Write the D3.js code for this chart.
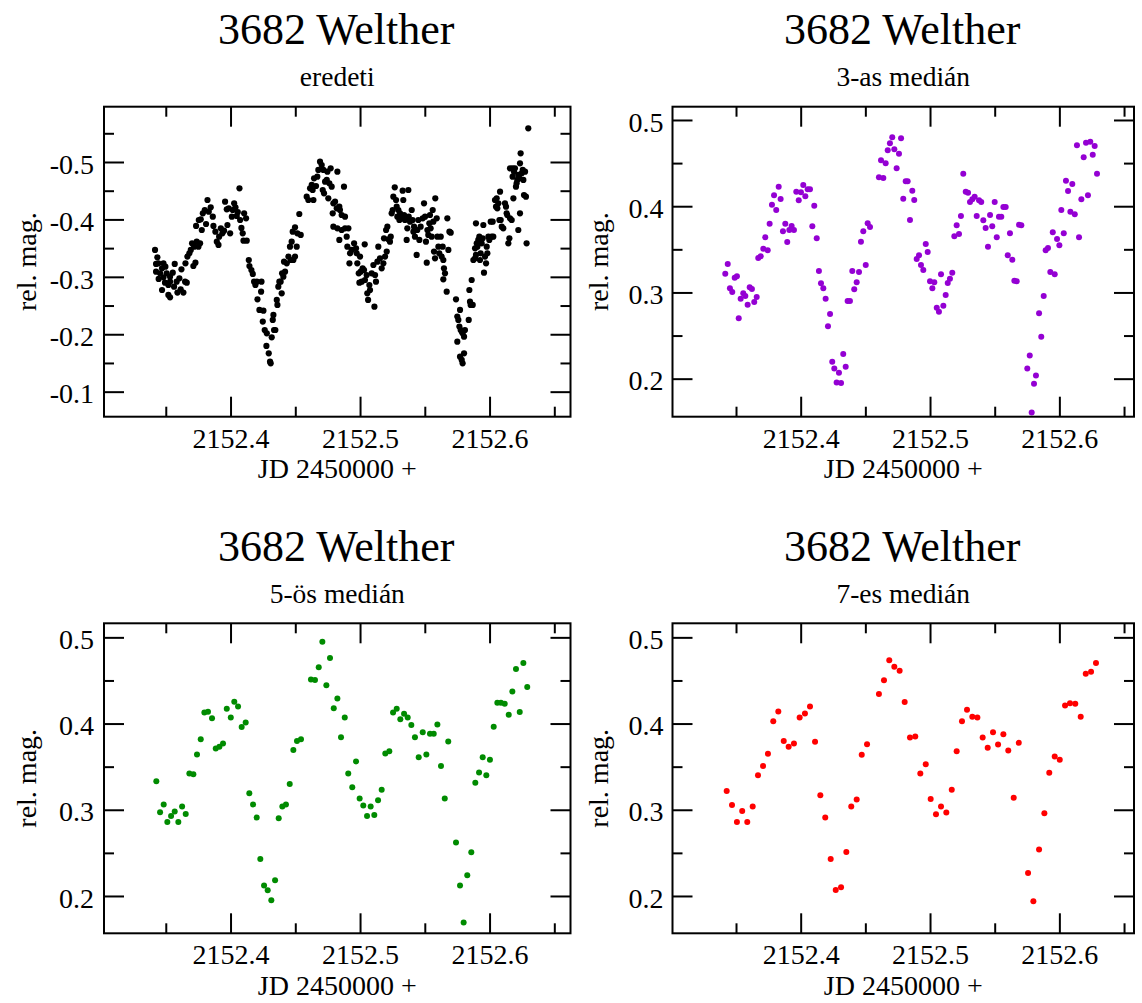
<!DOCTYPE html>
<html>
<head>
<meta charset="utf-8">
<script src="https://cdn.jsdelivr.net/npm/d3@7"></script>
<style>
  html, body { margin: 0; padding: 0; background: #fff; }
  svg { display: block; }
</style>
</head>
<body>
<svg id="chart" width="1142" height="1003"></svg>
<script>
// ---- labels and ticks ----
const objectName = "3682 Welther";
const subtitles = ["eredeti", "3-as medián", "5-ös medián", "7-es medián"];
const xLabel = "JD 2450000 +";
const yLabel = "rel. mag.";
const xMajorTicks = [2152.4, 2152.5, 2152.6];
const xMinorTicks = [2152.35, 2152.45, 2152.55, 2152.65];
const rawYTicks = [-0.5, -0.4, -0.3, -0.2, -0.1];
const rawYMinor = [-0.55, -0.45, -0.35, -0.25, -0.15];
const medYTicks = [0.5, 0.4, 0.3, 0.2];
const medYMinor = [0.45, 0.35, 0.25];

// ---- original photometry ----
const rawJD = [
2152.3417,2152.3435,2152.3425,2152.3443,2152.3482,2152.3425,2152.3456,2152.3471,2152.3497,2152.3445,
2152.3482,2152.3507,2152.3533,2152.3554,2152.3569,2152.3471,2152.3494,2152.3520,2152.3533,2152.3520,
2152.3533,2152.3564,2152.3584,2152.3605,2152.3621,2152.3590,2152.3615,2152.3636,2152.3649,2152.3662,
2152.3652,2152.3667,2152.3682,2152.3693,2152.3703,2152.3713,2152.3729,2152.3719,2152.3752,2152.3765,
2152.3739,2152.3734,2152.3755,2152.3770,2152.3786,2152.3801,2152.3778,2152.3811,2152.3822,2152.3832,
2152.3847,2152.3863,2152.3868,2152.3883,2152.3894,2152.3907,2152.3912,2152.3925,2152.3937,2152.3950,
2152.3958,2152.3971,2152.3976,2152.3986,2152.3997,2152.4010,2152.4017,2152.4028,2152.4038,2152.4048,
2152.4056,2152.4069,2152.4074,2152.4084,2152.4094,2152.4105,2152.4120,2152.4100,2152.4125,2152.4141,
2152.4146,2152.4161,2152.4172,2152.4182,2152.4192,2152.4203,2152.4239,2152.4236,2152.4208,2152.4223,
2152.4254,2152.4249,2152.4264,2152.4280,2152.4277,2152.4295,2152.4305,
2152.4310,2152.4318,2152.4326,2152.4336,2152.4346,2152.4331,2152.4357,2152.4362,2152.4369,2152.4377,
2152.4387,2152.4395,2152.4398,2152.4408,2152.4413,2152.4421,2152.4434,2152.4447,2152.4459,2152.4472,
2152.4465,2152.4485,2152.4498,2152.4480,2152.4498,2152.4511,2152.4516,2152.4531,2152.4542,2152.4588,
2152.4601,2152.4614,2152.4627,2152.4634,2152.4640,2152.4645,2152.4660,2152.4670,2152.4678,2152.4691,
2152.4704,2152.4717,2152.4712,2152.4722,2152.4730,2152.4743,2152.4748,2152.4755,2152.4763,2152.4773,
2152.4781,2152.4789,2152.4794,2152.4807,2152.4825,2152.4820,2152.4840,2152.4845,2152.4858,2152.4876,
2152.4884,2152.4794,2152.4825,2152.4840,2152.4858,2152.4884,2152.4910,2152.4897,2152.4902,2152.4923,
2152.4936,2152.4918,2152.4954,2152.4969,2152.4974,2152.4979,2152.5000,2152.5036,2152.4990,2152.5005,
2152.5020,2152.5031,2152.4995,2152.5013,2152.5038,2152.5051,2152.5056,2152.5062,2152.5072,2152.5077,
2152.5090,2152.5103,2152.5116,2152.5123,2152.5134,2152.5111,2152.5141,2152.5154,2152.5167,2152.5180,
2152.5193,2152.5206,2152.5185,2152.5201,2152.5211,2152.5219,2152.5231,2152.5237,2152.5244,2152.5252,
2152.5257,2152.5268,2152.5278,2152.5283,2152.5288,2152.5296,2152.5304,2152.5309,2152.5321,2152.5329,
2152.5334,2152.5340,2152.5347,2152.5360,2152.5365,2152.5373,2152.5376,2152.5386,2152.5399,2152.5406,
2152.5412,2152.5417,2152.5424,2152.5437,2152.5442,2152.5450,2152.5458,
2152.5468,2152.5484,2152.5494,2152.5502,2152.5509,2152.5515,2152.5520,2152.5527,2152.5535,2152.5540,
2152.5545,2152.5553,2152.5561,2152.5566,2152.5571,2152.5579,2152.5581,2152.5592,2152.5597,2152.5605,
2152.5612,2152.5623,2152.5630,2152.5638,2152.5643,2152.5648,2152.5656,2152.5643,2152.5669,2152.5674,
2152.5682,2152.5690,2152.5700,2152.5741,2152.5751,2152.5759,2152.5767,2152.5772,2152.5777,2152.5787,
2152.5792,2152.5803,2152.5810,2152.5751,2152.5772,2152.5785,2152.5792,2152.5803,2152.5839,2152.5844,
2152.5849,2152.5854,2152.5870,2152.5862,2152.5875,2152.5888,2152.5895,2152.5888,2152.5901,2152.5906,
2152.5913,2152.5895,2152.5921,2152.5926,2152.5931,2152.5939,2152.5947,2152.5952,2152.5957,2152.5965,
2152.5973,2152.5978,2152.5983,2152.5991,2152.5998,2152.6009,2152.6016,2152.6024,2152.6029,2152.6042,
2152.6050,2152.6055,2152.6060,2152.6068,2152.6076,2152.6081,2152.6086,2152.6094,2152.6106,2152.6119,
2152.6127,2152.6132,2152.6137,2152.6145,2152.6153,2152.6158,2152.6171,2152.6178,2152.6184,2152.6189,
2152.6196,2152.6204,2152.6209,2152.6214,2152.6222,2152.6230,2152.6235,2152.6240,2152.6248,2152.6256,
2152.6261,2152.6266,2152.6274,2152.6281,2152.6286,2152.6299,2152.6222,2152.6235,2152.6158,2152.6178
];
const rawMag = [
-0.3468,-0.3340,-0.3224,-0.3235,-0.3235,-0.3090,-0.3061,-0.3148,-0.3177,-0.2963,
-0.2992,-0.3061,-0.3003,-0.3073,-0.3224,-0.2771,-0.2899,-0.2858,-0.2916,-0.2684,
-0.2643,-0.2829,-0.2916,-0.2974,-0.3131,-0.2725,-0.2783,-0.2725,-0.2916,-0.2899,
-0.3235,-0.3352,-0.3410,-0.3468,-0.3584,-0.3189,-0.3247,-0.3526,-0.3526,-0.3584,
-0.3613,-0.3886,-0.3990,-0.4002,-0.4106,-0.4164,-0.3816,-0.3920,-0.4338,-0.4135,
-0.4211,-0.4048,-0.3886,-0.3787,-0.3613,-0.3555,-0.3700,-0.3845,-0.3758,-0.3804,
-0.4309,-0.4176,-0.3903,-0.4193,-0.3758,-0.4048,-0.4164,-0.4280,-0.4211,-0.4060,
-0.4129,-0.4541,-0.3990,-0.3851,-0.3758,-0.4106,-0.4019,-0.3630,-0.3630,-0.3293,
-0.3189,-0.3119,-0.3050,-0.2916,-0.2858,-0.2916,-0.2916,-0.2742,-0.2608,-0.2423,
-0.2411,-0.2220,-0.2074,-0.2016,-0.1796,-0.1668,-0.1523,
-0.1494,-0.1947,-0.2249,-0.2074,-0.2074,-0.2336,-0.2597,-0.2510,-0.2829,-0.2916,
-0.2916,-0.2713,-0.3061,-0.3003,-0.3264,-0.3090,-0.3235,-0.3352,-0.3526,-0.3613,
-0.3293,-0.3293,-0.3352,-0.3787,-0.3862,-0.3526,-0.3758,-0.4094,-0.3729,-0.4396,
-0.4338,-0.4541,-0.4600,-0.4512,-0.4338,-0.4716,-0.4582,-0.4745,-0.4861,-0.5006,
-0.4948,-0.4861,-0.4512,-0.4454,-0.4658,-0.4687,-0.4832,-0.4367,-0.4629,-0.4890,
-0.4571,-0.4106,-0.4280,-0.4309,-0.4832,-0.4193,-0.4222,-0.4164,-0.4077,-0.4571,
-0.4048,-0.3874,-0.3845,-0.3642,-0.3816,-0.3845,-0.3845,-0.3700,-0.3526,-0.3410,
-0.3468,-0.3235,-0.3584,-0.3497,-0.3410,-0.3235,-0.3352,-0.3566,-0.3061,-0.3090,
-0.3148,-0.3119,-0.2899,-0.2916,-0.2945,-0.3032,-0.2713,-0.2597,-0.2858,-0.2771,
-0.3061,-0.3206,-0.3032,-0.2916,-0.3264,-0.2481,-0.3526,-0.3322,-0.3148,-0.3235,
-0.3352,-0.3439,-0.3671,-0.3816,-0.3874,-0.3653,-0.3613,-0.3700,-0.4106,-0.4164,
-0.4396,-0.4559,-0.4338,-0.4222,-0.4048,-0.4164,-0.3990,-0.4106,-0.4019,-0.4501,
-0.4338,-0.4077,-0.3990,-0.3642,-0.3845,-0.4512,-0.4048,-0.3961,-0.4164,-0.3990,
-0.3787,-0.3874,-0.3700,-0.3381,-0.3816,-0.3990,-0.3642,
-0.3874,-0.4019,-0.4280,-0.4048,-0.3613,-0.3247,-0.3816,-0.3729,-0.3932,-0.4077,
-0.3845,-0.3700,-0.4164,-0.3961,-0.3439,-0.3322,-0.4367,-0.4019,-0.3700,-0.3526,
-0.3410,-0.3700,-0.3352,-0.3526,-0.3293,-0.3148,-0.3061,-0.2957,-0.2742,-0.4019,
-0.3468,-0.3787,-0.3769,-0.2608,-0.2307,-0.2249,-0.2133,-0.2423,-0.2074,-0.2045,
-0.2016,-0.1958,-0.2074,-0.1871,-0.1610,-0.1552,-0.1494,-0.1668,-0.2249,-0.2771,
-0.2568,-0.2510,-0.2510,-0.2945,-0.3293,-0.3322,-0.3381,-0.3497,-0.3584,-0.3526,
-0.3642,-0.3932,-0.3700,-0.3293,-0.3410,-0.3584,-0.3671,-0.3903,-0.3073,-0.3352,
-0.3235,-0.3526,-0.3410,-0.3700,-0.3642,-0.3961,-0.3700,-0.3961,-0.3700,-0.4338,
-0.4222,-0.4367,-0.4193,-0.4280,-0.3990,-0.4483,-0.3990,-0.3874,-0.3845,-0.4280,
-0.4222,-0.4106,-0.4077,-0.3584,-0.3671,-0.4019,-0.3990,-0.4745,-0.4367,-0.4832,
-0.4890,-0.4571,-0.4629,-0.4687,-0.4774,-0.4716,-0.4977,-0.5151,-0.4803,-0.4861,
-0.4687,-0.4425,-0.4832,-0.4396,-0.3584,-0.5586,-0.3816,-0.4106,-0.4890,-0.4890
];

// ---- 3-point median ----
const med3JD = [
2152.3417,2152.3436,2152.3453,2152.3471,2152.3490,2152.3507,2152.3521,2152.3536,2152.3556,2152.3572,
2152.3590,2152.3606,2152.3623,2152.3641,2152.3660,2152.3672,2152.3691,2152.3711,2152.3726,2152.3745,
2152.3760,2152.3778,2152.3794,2152.3811,2152.3830,2152.3845,2152.3863,2152.3881,2152.3896,2152.3912,
2152.3930,2152.3948,2152.3966,2152.3985,2152.4002,2152.4020,2152.4036,2152.4054,2152.4072,2152.4090,
2152.4105,2152.4124,2152.4141,2152.4157,2152.4175,2152.4193,2152.4211,2152.4227,2152.4244,2152.4260,
2152.4278,2152.4296,2152.4312,2152.4329,2152.4348,2152.4363,2152.4381,2152.4399,2152.4414,2152.4433,
2152.4451,2152.4466,2152.4484,2152.4503,2152.4518,2152.4536,2152.4605,2152.4621,2152.4639,2152.4657,
2152.4673,2152.4690,2152.4708,2152.4724,2152.4742,2152.4760,2152.4776,2152.4793,2152.4812,2152.4827,
2152.4845,2152.4863,2152.4878,2152.4897,2152.4915,2152.4930,2152.4948,2152.4967,2152.4982,2152.5000,
2152.5018,2152.5033,2152.5052,2152.5069,2152.5085,2152.5103,2152.5121,2152.5137,2152.5154,2152.5172,
2152.5188,2152.5206,2152.5224,2152.5239,2152.5257,2152.5276,2152.5294,2152.5309,2152.5327,2152.5345,
2152.5361,2152.5379,2152.5396,2152.5412,2152.5430,2152.5448,2152.5464,2152.5481,2152.5500,2152.5516,
2152.5533,2152.5551,2152.5567,2152.5585,2152.5601,2152.5618,2152.5636,2152.5652,2152.5670,2152.5688,
2152.5706,2152.5752,2152.5771,2152.5786,2152.5804,2152.5819,2152.5843,2152.5860,2152.5879,2152.5894,
2152.5912,2152.5930,2152.5949,2152.5964,2152.5982,2152.6000,2152.6015,2152.6034,2152.6051,2152.6067,
2152.6085,2152.6100,2152.6119,2152.6136,2152.6152,2152.6170,2152.6188,2152.6206,2152.6221,2152.6239,
2152.6258,2152.6273,2152.6291
];
const med3Mag = [
0.3217,0.3329,0.3048,0.3005,0.3171,0.3187,0.2700,0.2927,0.2990,0.2958,
0.2857,0.3059,0.3039,0.2889,0.2947,0.3399,0.3419,0.3507,0.3639,0.3488,
0.3797,0.4017,0.4126,0.3956,0.4226,0.4084,0.3709,0.3797,0.3585,0.3724,
0.3770,0.3724,0.4168,0.4068,0.4161,0.4246,0.4115,0.4196,0.4196,0.3767,
0.4006,0.3628,0.3248,0.3106,0.3048,0.2927,0.2607,0.2749,0.2196,0.2119,
0.1957,0.2068,0.1949,0.2285,0.2138,0.2900,0.2900,0.3248,0.3036,0.3117,
0.3237,0.3588,0.3709,0.3318,0.3802,0.3759,0.4335,0.4532,0.4327,0.4498,
0.4648,0.4730,0.4799,0.4660,0.4440,0.4609,0.4788,0.4087,0.4289,0.4289,
0.3840,0.4180,0.4072,0.3387,0.3430,0.3318,0.3260,0.3561,0.3469,0.3129,
0.3048,0.3117,0.2822,0.2776,0.3210,0.2846,0.2970,0.3109,0.3159,0.3229,
0.3651,0.3778,0.3677,0.3886,0.4377,0.4168,0.4157,0.4049,0.4080,0.4110,
0.3886,0.4068,0.4049,0.3836,0.3747,0.3530,0.3898,0.3767,0.4049,0.3639,
0.3878,0.3878,0.3991,0.3991,0.3430,0.3686,0.3379,0.3136,0.3129,0.3785,
0.3778,0.2119,0.2270,0.1609,0.1941,0.2038,0.2758,0.2486,0.2958,0.3488,
0.3515,0.3237,0.3697,0.3210,0.3619,0.3546,0.3956,0.3686,0.4296,0.4176,
0.3936,0.4258,0.3906,0.4706,0.3639,0.4080,0.4567,0.4737,0.4126,0.4748,
0.4597,0.4698,0.4377
];

// ---- 5-point median ----
const med5JD = [
2152.3427,2152.3456,2152.3484,2152.3512,2152.3541,2152.3569,2152.3597,2152.3626,2152.3654,2152.3682,
2152.3713,2152.3741,2152.3770,2152.3798,2152.3826,2152.3857,2152.3886,2152.3914,2152.3942,2152.3971,
2152.4002,2152.4029,2152.4058,2152.4086,2152.4117,2152.4145,2152.4174,2152.4202,2152.4230,2152.4259,
2152.4287,2152.4315,2152.4344,2152.4372,2152.4400,2152.4428,2152.4457,2152.4485,2152.4513,2152.4544,
2152.4621,2152.4652,2152.4681,2152.4709,2152.4740,2152.4768,2152.4797,2152.4825,2152.4853,2152.4882,
2152.4909,2152.4940,2152.4969,2152.4997,2152.5025,2152.5054,2152.5082,2152.5110,2152.5139,2152.5167,
2152.5195,2152.5226,2152.5255,2152.5283,2152.5311,2152.5340,2152.5368,2152.5396,2152.5424,2152.5453,
2152.5484,2152.5512,2152.5540,2152.5569,2152.5597,2152.5625,2152.5654,2152.5681,2152.5741,2152.5772,
2152.5800,2152.5828,2152.5859,2152.5890,2152.5919,2152.5947,2152.5975,2152.6003,2152.6032,2152.6060,
2152.6088,2152.6117,2152.6148,2152.6176,2152.6204,2152.6233,2152.6261,2152.6291
];
const med5Mag = [
0.3332,0.2972,0.3061,0.2859,0.2929,0.2980,0.2859,0.3038,0.2952,0.3421,
0.3413,0.3642,0.3819,0.4129,0.4136,0.4063,0.3711,0.3730,0.3769,0.4171,
0.4071,0.4252,0.4199,0.3959,0.4013,0.3192,0.3061,0.2910,0.2429,0.2121,
0.2066,0.1950,0.2182,0.2902,0.3038,0.3061,0.3300,0.3692,0.3799,0.3819,
0.4512,0.4504,0.4652,0.4949,0.4443,0.4760,0.4179,0.4292,0.3842,0.4071,
0.3421,0.3262,0.3560,0.3131,0.3049,0.2929,0.3038,0.2940,0.3111,0.3231,
0.3653,0.3680,0.4129,0.4171,0.4051,0.4113,0.4071,0.3982,0.3842,0.3610,
0.3900,0.3642,0.3881,0.3881,0.3990,0.3509,0.3131,0.3793,0.2620,0.2121,
0.1691,0.2240,0.2507,0.3312,0.3433,0.3610,0.3401,0.3579,0.3962,0.4241,
0.4241,0.4229,0.4101,0.4373,0.4632,0.4133,0.4702,0.4423
];

// ---- 7-point median ----
const med7JD = [
2152.3428,2152.3469,2152.3507,2152.3548,2152.3587,2152.3629,2152.3670,2152.3709,2152.3747,2152.3788,
2152.3827,2152.3869,2152.3907,2152.3948,2152.3992,2152.4033,2152.4072,2152.4111,2152.4152,2152.4190,
2152.4232,2152.4271,2152.4312,2152.4353,2152.4391,2152.4433,2152.4472,2152.4513,2152.4605,2152.4644,
2152.4685,2152.4724,2152.4765,2152.4804,2152.4845,2152.4886,2152.4925,2152.4967,2152.5005,2152.5046,
2152.5085,2152.5126,2152.5168,2152.5206,2152.5247,2152.5286,2152.5327,2152.5366,2152.5407,2152.5446,
2152.5487,2152.5526,2152.5567,2152.5605,2152.5647,2152.5686,2152.5758,2152.5799,2152.5843,2152.5884,
2152.5922,2152.5964,2152.6003,2152.6044,2152.6082,2152.6123,2152.6165,2152.6204,2152.6245,2152.6283
];
const med7Mag = [
0.3219,0.3056,0.2859,0.2987,0.2859,0.3038,0.3401,0.3509,0.3649,0.4028,
0.4141,0.3799,0.3730,0.3769,0.4071,0.4118,0.4199,0.3788,0.3169,0.2910,
0.2429,0.2070,0.2101,0.2511,0.3038,0.3119,0.3637,0.3761,0.4342,0.4501,
0.4733,0.4659,0.4612,0.4249,0.3839,0.3851,0.3421,0.3529,0.3126,0.2948,
0.3038,0.2968,0.3231,0.3680,0.4028,0.4159,0.4078,0.4071,0.3839,0.3718,
0.3900,0.3758,0.3877,0.3688,0.3138,0.3776,0.2267,0.1938,0.2539,0.2960,
0.3428,0.3618,0.3579,0.4210,0.4237,0.4229,0.4078,0.4577,0.4601,0.4702
];

// ---- drawing ----
const FONT = '"Liberation Serif", "Times New Roman", Times, serif';
const svg = d3.select("#chart");
svg.append("rect").attr("width", 1142).attr("height", 1003).attr("fill", "#fff");

const fmt1 = d => d.toFixed(1);

function styleAxis(g) {
  g.attr("font-family", FONT).attr("font-size", 28);
  g.select(".domain").remove();
  g.selectAll(".tick line").attr("stroke", "#000").attr("stroke-width", 2);
  g.selectAll(".tick text").attr("fill", "#000");
  return g;
}

function drawPanel(p) {
  const g = svg.append("g");
  const x = d3.scaleLinear().domain(p.xDomain).range([p.left, p.right]);
  const y = d3.scaleLinear().domain(p.yDomain).range([p.bottom, p.top]);
  const cx = (p.left + p.right) / 2;

  // data points
  g.append("g")
    .selectAll("circle")
    .data(d3.zip(p.jd, p.mag))
    .join("circle")
    .attr("cx", d => x(d[0]))
    .attr("cy", d => y(d[1]))
    .attr("r", p.r)
    .attr("fill", p.color);

  // ticks on all four sides, pointing inwards
  const major = 20, minor = 10;
  styleAxis(g.append("g").attr("transform", `translate(0,${p.bottom})`)
    .call(d3.axisBottom(x).tickValues(xMajorTicks).tickSize(-major).tickPadding(11).tickFormat(fmt1)));
  styleAxis(g.append("g").attr("transform", `translate(0,${p.bottom})`)
    .call(d3.axisBottom(x).tickValues(xMinorTicks).tickSize(-minor).tickFormat("")));
  styleAxis(g.append("g").attr("transform", `translate(0,${p.top})`)
    .call(d3.axisTop(x).tickValues(xMajorTicks).tickSize(-major).tickFormat("")));
  styleAxis(g.append("g").attr("transform", `translate(0,${p.top})`)
    .call(d3.axisTop(x).tickValues(xMinorTicks).tickSize(-minor).tickFormat("")));

  const left = styleAxis(g.append("g").attr("transform", `translate(${p.left},0)`)
    .call(d3.axisLeft(y).tickValues(p.yTicks).tickSize(-major).tickPadding(p.yPad).tickFormat(fmt1)));
  left.selectAll(".tick text").attr("dy", "0.4em");
  styleAxis(g.append("g").attr("transform", `translate(${p.left},0)`)
    .call(d3.axisLeft(y).tickValues(p.yMinor).tickSize(-minor).tickFormat("")));
  styleAxis(g.append("g").attr("transform", `translate(${p.right},0)`)
    .call(d3.axisRight(y).tickValues(p.yTicks).tickSize(-major).tickFormat("")));
  styleAxis(g.append("g").attr("transform", `translate(${p.right},0)`)
    .call(d3.axisRight(y).tickValues(p.yMinor).tickSize(-minor).tickFormat("")));

  // frame
  g.append("rect")
    .attr("x", p.left).attr("y", p.top)
    .attr("width", p.right - p.left).attr("height", p.bottom - p.top)
    .attr("fill", "none").attr("stroke", "#000").attr("stroke-width", 2);

  // titles and axis labels
  const text = (tx, ty, s, size) => g.append("text")
    .attr("x", tx).attr("y", ty)
    .attr("text-anchor", "middle")
    .attr("font-family", FONT).attr("font-size", size)
    .attr("fill", "#000").text(s);
  text(cx - 1, p.top - 62.4, objectName, 44);
  text(cx, p.top - 20.7, p.subtitle, 27.5);
  text(cx, p.bottom + 61.6, xLabel, 28);
  g.append("text")
    .attr("transform", `translate(${p.yLabelX},${(p.top + p.bottom) / 2}) rotate(-90)`)
    .attr("text-anchor", "middle")
    .attr("font-family", FONT).attr("font-size", 28)
    .attr("fill", "#000").text(yLabel);
}

const leftCol = { left: 104, right: 570.5, xDomain: [2152.3023, 2152.6625] };
const rightCol = { left: 672.5, right: 1134, xDomain: [2152.3009, 2152.6577] };

drawPanel({ ...leftCol, top: 106.7, bottom: 416.7, yDomain: [-0.0564, -0.5963],
  yTicks: rawYTicks, yMinor: rawYMinor, yPad: 10, yLabelX: 36,
  jd: rawJD, mag: rawMag, color: "#000000", r: 3.1, subtitle: subtitles[0] });
drawPanel({ ...rightCol, top: 106.7, bottom: 416.7, yDomain: [0.1559, 0.5154],
  yTicks: medYTicks, yMinor: medYMinor, yPad: 9, yLabelX: 608,
  jd: med3JD, mag: med3Mag, color: "#9400d3", r: 3, subtitle: subtitles[1] });
drawPanel({ ...leftCol, top: 623.3, bottom: 933.3, yDomain: [0.1567, 0.5163],
  yTicks: medYTicks, yMinor: medYMinor, yPad: 10, yLabelX: 36,
  jd: med5JD, mag: med5Mag, color: "#008b00", r: 3, subtitle: subtitles[2] });
drawPanel({ ...rightCol, top: 623.3, bottom: 933.3, yDomain: [0.1567, 0.5163],
  yTicks: medYTicks, yMinor: medYMinor, yPad: 9, yLabelX: 608,
  jd: med7JD, mag: med7Mag, color: "#ff0000", r: 3, subtitle: subtitles[3] });
</script>
</body>
</html>
